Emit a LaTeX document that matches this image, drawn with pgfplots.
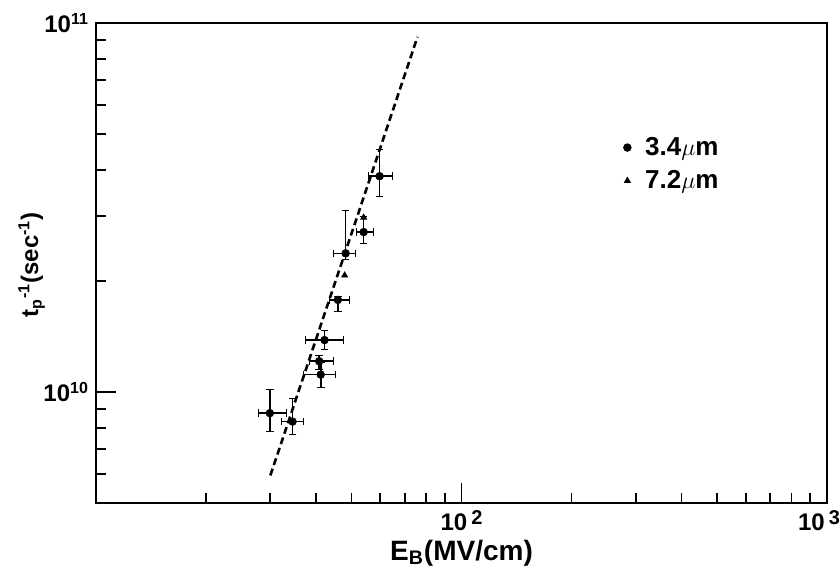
\documentclass[border=0pt]{standalone}
\usepackage{fontspec}
\setmainfont{Liberation Sans}
\usepackage{pgfplots}
\pgfplotsset{compat=1.18}

% x y xm xp ym yp  (3.4 um points, errors in data units)
\pgfplotstableread{
x     y        xm   xp   ym      yp
29.9  8.76e9   2.1  3.3  0.95e9  1.38e9
34.5  8.31e9   2.3  2.4  0.64e9  1.30e9
41.2  1.114e10 4.3  4.0  0.84e9  0.89e9
40.8  1.211e10 2.5  3.7  0.57e9  0.42e9
42.2  1.382e10 4.7  5.2  0.75e9  0.84e9
45.9  1.776e10 2.3  3.3  1.18e9  0.45e9
48.2  2.375e10 3.5  3.1  0.87e9  7.29e9
54.0  2.712e10 2.4  3.5  1.90e9  2.84e9
59.7  3.843e10 4.2  5.0  4.50e9  7.00e9
}\thinA

\begin{document}
\begin{tikzpicture}
\begin{loglogaxis}[
  scale only axis, width=365.5pt, height=240pt,
  xmin=10, xmax=1000, ymin=5e9, ymax=1e11,
  axis line style={line width=1.1pt},
  tick pos=left, tick align=inside,
  xtick={10,100,1000},
  xticklabels={,10\,\raisebox{0.55ex}{\normalsize 2},\hspace*{-8pt}10\,\raisebox{0.55ex}{\normalsize 3}},
  ytick={1e10,1e11}, yticklabels={10\textsuperscript{10},10\textsuperscript{11}},
  minor xtick={20,30,40,50,60,70,80,90,200,300,400,500,600,700,800,900},
  minor ytick={6e9,7e9,8e9,9e9,2e10,3e10,4e10,5e10,6e10,7e10,8e10,9e10},
  major tick length=10pt, minor tick length=5pt,
  every tick/.style={black, line width=0.9pt},
  xticklabel style={font=\bfseries\large},
  yticklabel style={font=\bfseries\large},
  xlabel={E\textsubscript{B}(MV/cm)},
  ylabel={t\textsubscript{p}\textsuperscript{-1}(sec\textsuperscript{-1})},
  xlabel style={font=\bfseries\fontsize{14}{16}\selectfont,
    at={(axis description cs:0.5,-0.104)}, anchor=center},
  ylabel style={font=\bfseries\fontsize{12}{14}\selectfont,
    at={(axis description cs:-0.088,0.496)}, anchor=center},
  legend style={draw=none, fill=none, at={(0.713,0.78)}, anchor=north west,
    font=\bfseries\fontsize{13}{15}\selectfont, row sep=2pt},
  legend cell align=left,
]
\addplot[only marks, mark=*, mark size=1.9pt, black,
  error bars/.cd, x dir=both, x explicit, y dir=both, y explicit,
  error bar style={line width=0.8pt}]
  table[x=x, y=y, x error plus=xp, x error minus=xm,
        y error plus=yp, y error minus=ym] {\thinA};
\addlegendentry{\hspace{5pt}3.4$\mu$m}
\addplot[only marks, mark=triangle*, mark size=1.7pt, black]
  coordinates {(47.9,2.07e10) (54.0,2.97e10)};
\addlegendentry{\hspace{5pt}7.2$\mu$m}
\addplot[forget plot, black, line width=1.3pt, dash pattern=on 3.5pt off 2pt]
  coordinates {(30.0,5.94e9) (75.8,9.17e10)};
\coordinate (bbsw) at (rel axis cs:-0.1313,-0.15);
\coordinate (bbne) at (rel axis cs:1.0178,1.048);
\end{loglogaxis}
\pgfresetboundingbox
\path[use as bounding box] (bbsw) rectangle (bbne);
\end{tikzpicture}
\end{document}
